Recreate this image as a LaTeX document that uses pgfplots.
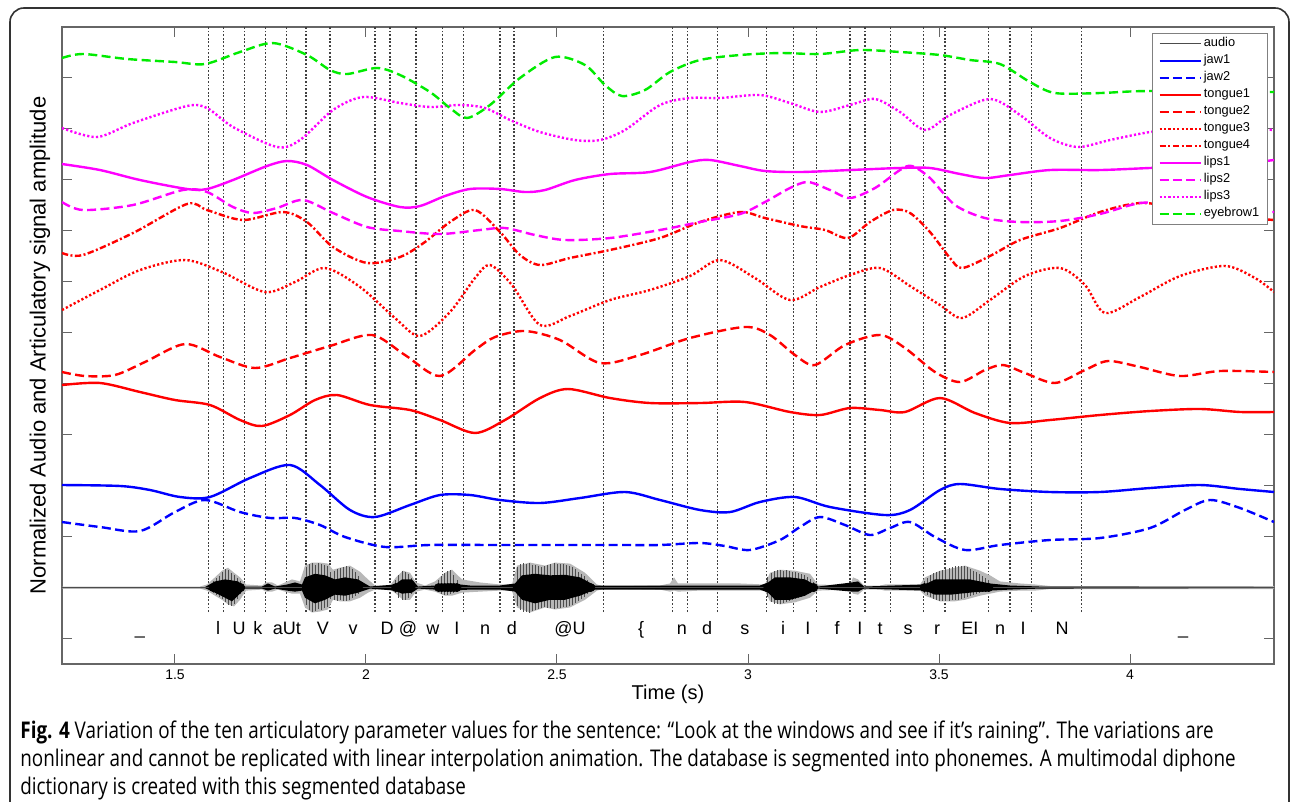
\documentclass[border=0pt]{standalone}
\usepackage{fontspec}
\setmainfont{Liberation Sans}
\newfontfamily\capfont[FakeStretch=0.82]{Open Sans}
\usepackage{pgfplots}
\pgfplotsset{compat=1.18}
\definecolor{mblue}{rgb}{0,0,1}
\definecolor{mred}{rgb}{1,0,0}
\definecolor{mmag}{rgb}{1,0,1}
\definecolor{mgreen}{rgb}{0,0.92,0}
\tikzset{
  solidc/.style={line width=1.2pt},
  dashc/.style={line width=1.2pt, dash pattern=on 4.5pt off 2.2pt},
  dotc/.style={line width=1.2pt, dash pattern=on 1.1pt off 1.1pt},
  dashdotc/.style={line width=1.2pt, dash pattern=on 3.2pt off 1.2pt on 1pt off 1.2pt},
}
\begin{document}
\begin{tikzpicture}
\path[use as bounding box] (0,0) rectangle (645pt,401pt);
\draw[black!80, line width=0.8pt, rounded corners=7pt] (5pt,-20pt) rectangle (644.5pt,397pt);
\begin{axis}[
  at={(31pt,69pt)}, anchor=south west,
  width=606pt, height=318.5pt, scale only axis,
  xmin=1.2042, xmax=4.377, ymin=-0.5, ymax=12,
  xtick={1.5,2,2.5,3,3.5,4},
  ytick={0,1,...,11}, yticklabels={},
  xtick pos=both, ytick pos=both,
  tick align=inside, major tick length=5pt,
  axis line style={black!60, line width=0.6pt},
  tick style={black!60, line width=0.5pt},
  /pgf/number format/assume math mode=true,
  xticklabel style={font=\fontsize{7}{8}\selectfont, anchor=center, yshift=-5.5pt},
  xlabel={Time (s)},
  ylabel={Normalized Audio and Articulatory signal amplitude},
  xlabel style={font=\fontsize{10}{11}\selectfont, at={(axis description cs:0.5,-0.048)}, anchor=center},
  ylabel style={font=\fontsize{11}{12}\selectfont, at={(axis description cs:-0.0182,0.5)}, anchor=center},
  legend style={at={(0.995,0.9906)}, anchor=north east, draw=black!50, line width=0.5pt, fill=white,
    font=\fontsize{6.4}{7}\selectfont, inner xsep=3pt, inner ysep=1pt, row sep=0.2pt,
    nodes={inner sep=1.05pt, text height=4.6pt, text depth=1.6pt}},
  legend cell align=left,
  legend image code/.code={\draw[#1] (0pt,0pt) -- (20.5pt,0pt);},
  clip=true,
]
% phoneme boundaries
\pgfplotsinvokeforeach{1.5872,1.6264,1.6814,1.7374,1.7924,1.8429,1.9058,2.0236,2.0628,2.1309,2.1997,2.2547,2.3508,2.3874,2.6212,2.8029,2.8411,2.9207,3.0490,3.1186,3.1799,3.2670,3.3063,3.3736,3.4589,3.5157,3.6291,3.6859,3.7427,3.8736}{
  \addplot[forget plot, black!75, line width=0.6pt, dash pattern=on 0.9pt off 0.9pt] coordinates {(#1,0.52) (#1,12)};
}
% audio waveform: outer envelope
\addplot[forget plot, fill=black!28, draw=none] coordinates {
(1.2042,1.02) (1.5654,1.02) (1.5838,1.06) (1.6047,1.20) (1.6230,1.33) (1.6387,1.39) (1.6545,1.29) (1.6702,1.20) (1.6859,1.06)
(1.7277,1.04) (1.7382,1.10) (1.7539,1.10) (1.7696,1.04) (1.7880,1.10) (1.8063,1.16) (1.8272,1.12) (1.8403,1.43) (1.8586,1.49)
(1.8796,1.49) (1.9005,1.47) (1.9136,1.35) (1.9319,1.39) (1.9581,1.43) (1.9843,1.31) (2.0052,1.16) (2.0236,1.04) (2.0628,1.04)
(2.0785,1.20) (2.0969,1.33) (2.1152,1.29) (2.1309,1.10) (2.1545,1.04) (2.1806,1.12) (2.2068,1.29) (2.2251,1.35) (2.2513,1.16)
(2.2984,1.10) (2.3508,1.06) (2.3822,1.06) (2.3953,1.43) (2.4293,1.49) (2.4686,1.43) (2.4948,1.49) (2.5340,1.47) (2.5733,1.29)
(2.6047,1.06) (2.6257,1.02) (2.7696,1.04) (2.7958,1.08) (2.8063,1.20) (2.8168,1.08) (2.8743,1.08) (2.9791,1.08) (3.0445,1.06)
(3.0576,1.29) (3.0838,1.35) (3.1230,1.33) (3.1623,1.27) (3.1832,1.06) (3.2670,1.04) (3.2749,1.20) (3.2880,1.16) (3.3037,1.04)
(3.3456,1.04) (3.3586,1.06) (3.3979,1.06) (3.4503,1.06) (3.4634,1.20) (3.5026,1.33) (3.5419,1.39) (3.5681,1.43) (3.6073,1.33)
(3.6335,1.24) (3.6597,1.12) (3.7120,1.08) (3.7513,1.06) (3.7906,1.03) (4.377,1.03)
(4.377,0.97) (3.7906,0.97) (3.7513,0.94) (3.7120,0.94) (3.6597,0.92) (3.6335,0.88) (3.6073,0.84) (3.5681,0.76) (3.5419,0.73)
(3.5026,0.73) (3.4634,0.84) (3.4503,0.94) (3.3979,0.94) (3.3586,0.94) (3.3456,0.96) (3.3037,0.96) (3.2880,0.86) (3.2749,0.88)
(3.2670,0.96) (3.1832,0.94) (3.1623,0.80) (3.1230,0.71) (3.0838,0.67) (3.0576,0.73) (3.0445,0.94) (2.9791,0.94) (2.8743,0.94)
(2.8168,0.92) (2.8063,0.94) (2.7958,0.92) (2.7696,0.96) (2.6257,0.98) (2.6047,0.94) (2.5733,0.76) (2.5340,0.61) (2.4948,0.57)
(2.4686,0.61) (2.4293,0.51) (2.3953,0.61) (2.3822,0.94) (2.3508,0.94) (2.2984,0.92) (2.2513,0.90) (2.2251,0.84) (2.2068,0.84)
(2.1806,0.92) (2.1545,0.96) (2.1309,0.92) (2.1152,0.76) (2.0969,0.76) (2.0785,0.88) (2.0628,0.96) (2.0236,0.96) (2.0052,0.90)
(1.9843,0.80) (1.9581,0.73) (1.9319,0.73) (1.9136,0.76) (1.9005,0.57) (1.8796,0.53) (1.8586,0.51) (1.8403,0.61) (1.8272,0.88)
(1.8063,0.88) (1.7880,0.92) (1.7696,0.96) (1.7539,0.92) (1.7382,0.92) (1.7277,0.96) (1.6859,0.94) (1.6702,0.76) (1.6545,0.63)
(1.6387,0.67) (1.6230,0.76) (1.6047,0.84) (1.5838,0.94) (1.5654,0.98) (1.2042,0.98)
};
% audio waveform: individual spikes (pitch periods)
\addplot[forget plot, only marks, mark=none,
  error bars/.cd, y dir=both, y explicit, error mark=none,
  error bar style={draw=black!70, line width=0.4pt, solid}]
  table[x=t, y=b, y error plus=p, y error minus=m] {
t b p m
1.600 1 0.12 0.10
1.608 1 0.18 0.14
1.616 1 0.22 0.18
1.624 1 0.30 0.22
1.632 1 0.36 0.28
1.640 1 0.34 0.34
1.648 1 0.28 0.36
1.656 1 0.24 0.32
1.664 1 0.18 0.22
1.672 1 0.12 0.12
1.844 1 0.40 0.35
1.852 1 0.46 0.44
1.860 1 0.48 0.48
1.868 1 0.44 0.46
1.876 1 0.48 0.42
1.884 1 0.46 0.45
1.892 1 0.44 0.40
1.900 1 0.42 0.38
1.908 1 0.30 0.22
1.916 1 0.32 0.24
1.924 1 0.36 0.26
1.932 1 0.38 0.25
1.940 1 0.40 0.26
1.948 1 0.42 0.26
1.956 1 0.40 0.24
1.964 1 0.36 0.20
1.972 1 0.30 0.16
1.980 1 0.22 0.12
2.078 1 0.15 0.10
2.086 1 0.25 0.20
2.094 1 0.32 0.24
2.102 1 0.30 0.24
2.110 1 0.26 0.20
2.118 1 0.18 0.12
2.190 1 0.15 0.08
2.198 1 0.22 0.12
2.206 1 0.28 0.15
2.214 1 0.32 0.14
2.222 1 0.34 0.12
2.230 1 0.25 0.10
2.238 1 0.15 0.08
2.396 1 0.40 0.36
2.404 1 0.46 0.44
2.412 1 0.48 0.48
2.420 1 0.46 0.48
2.428 1 0.48 0.49
2.436 1 0.44 0.46
2.444 1 0.45 0.44
2.452 1 0.42 0.42
2.460 1 0.40 0.40
2.468 1 0.42 0.38
2.476 1 0.44 0.40
2.484 1 0.46 0.40
2.492 1 0.48 0.42
2.500 1 0.46 0.40
2.508 1 0.46 0.40
2.516 1 0.46 0.38
2.524 1 0.44 0.38
2.532 1 0.42 0.36
2.540 1 0.40 0.34
2.548 1 0.36 0.30
2.556 1 0.30 0.26
2.564 1 0.26 0.22
2.572 1 0.22 0.18
2.580 1 0.14 0.12
2.588 1 0.08 0.08
3.052 1 0.20 0.18
3.060 1 0.28 0.28
3.068 1 0.32 0.32
3.076 1 0.34 0.33
3.084 1 0.35 0.32
3.092 1 0.32 0.30
3.100 1 0.34 0.28
3.108 1 0.33 0.26
3.116 1 0.30 0.24
3.124 1 0.30 0.22
3.132 1 0.28 0.20
3.140 1 0.26 0.18
3.148 1 0.24 0.16
3.156 1 0.20 0.12
3.164 1 0.16 0.10
3.172 1 0.10 0.06
3.462 1 0.12 0.10
3.470 1 0.18 0.14
3.478 1 0.24 0.18
3.486 1 0.28 0.22
3.494 1 0.30 0.24
3.502 1 0.32 0.26
3.510 1 0.34 0.26
3.518 1 0.36 0.26
3.526 1 0.38 0.26
3.534 1 0.40 0.25
3.542 1 0.42 0.24
3.550 1 0.42 0.24
3.558 1 0.43 0.22
3.566 1 0.42 0.20
3.574 1 0.40 0.18
3.582 1 0.36 0.16
3.590 1 0.32 0.14
3.598 1 0.30 0.12
3.606 1 0.26 0.10
3.614 1 0.22 0.08
3.622 1 0.18 0.08
3.630 1 0.14 0.06
};
% audio waveform: core
\addplot[forget plot, fill=black, draw=none] coordinates {
(1.2042,1.01) (1.5785,1.01) (1.6047,1.12) (1.6309,1.16) (1.6492,1.14) (1.6649,1.12) (1.6832,1.02) (1.7277,1.02) (1.7435,1.08)
(1.7618,1.02) (1.7932,1.06) (1.8141,1.10) (1.8325,1.06) (1.8403,1.20) (1.8665,1.27) (1.8927,1.24) (1.9188,1.16) (1.9450,1.20)
(1.9791,1.16) (2.0105,1.02) (2.0759,1.06) (2.0942,1.16) (2.1204,1.16) (2.1361,1.02) (2.1806,1.04) (2.2199,1.08) (2.2723,1.04)
(2.3508,1.04) (2.3901,1.08) (2.4084,1.24) (2.4424,1.27) (2.4817,1.24) (2.5209,1.25) (2.5602,1.20) (2.5995,1.04) (2.7906,1.04)
(2.8743,1.04) (3.0314,1.04) (3.0524,1.10) (3.0707,1.20) (3.1099,1.20) (3.1492,1.16) (3.1832,1.02) (3.2722,1.10) (3.2880,1.12)
(3.3037,1.02) (3.4634,1.06) (3.4895,1.16) (3.5288,1.16) (3.5812,1.16) (3.6335,1.08) (3.6859,1.04) (3.7644,1.02) (4.377,1.01)
(4.377,0.99) (3.7644,0.98) (3.6859,0.96) (3.6335,0.94) (3.5812,0.90) (3.5288,0.86) (3.4895,0.86) (3.4634,0.94) (3.3037,0.98)
(3.2880,0.92) (3.2722,0.92) (3.1832,0.98) (3.1492,0.84) (3.1099,0.76) (3.0707,0.76) (3.0524,0.90) (3.0314,0.96) (2.8743,0.96)
(2.7906,0.96) (2.5995,0.96) (2.5602,0.84) (2.5209,0.76) (2.4817,0.76) (2.4424,0.69) (2.4084,0.76) (2.3901,0.92) (2.3508,0.96)
(2.2723,0.96) (2.2199,0.94) (2.1806,0.96) (2.1361,0.98) (2.1204,0.90) (2.0942,0.88) (2.0759,0.94) (2.0105,0.98) (1.9791,0.90)
(1.9450,0.84) (1.9188,0.86) (1.8927,0.76) (1.8665,0.69) (1.8403,0.80) (1.8325,0.94) (1.8141,0.92) (1.7932,0.94) (1.7618,0.98)
(1.7435,0.94) (1.7277,0.98) (1.6832,0.98) (1.6649,0.84) (1.6492,0.73) (1.6309,0.80) (1.6047,0.90) (1.5785,0.99) (1.2042,0.99)
};
\addplot[black!70, line width=0.5pt] coordinates {(1.2042,1) (4.377,1)};
\addlegendentry{audio}
% jaw1
\addplot[mblue, solidc, smooth] coordinates {
(1.2042,3.012) (1.3560,2.993) (1.4346,2.914) (1.5131,2.777) (1.5916,2.777) (1.6963,3.150) (1.8010,3.405) (1.8796,3.012)
(1.9581,2.522) (2.0236,2.384) (2.1152,2.620) (2.1937,2.816) (2.2723,2.816) (2.3508,2.718) (2.4555,2.659) (2.5602,2.757)
(2.6780,2.875) (2.7696,2.718) (2.8743,2.522) (2.9529,2.482) (3.0314,2.679) (3.1230,2.777) (3.2147,2.580) (3.3586,2.423)
(3.4241,2.522) (3.5026,2.914) (3.5550,3.032) (3.6597,2.934) (3.7906,2.875) (3.9215,2.875) (4.0524,2.953) (4.1832,3.012)
(4.2880,2.934) (4.377,2.875)};
\addlegendentry{jaw1}
% jaw2
\addplot[mblue, dashc, smooth] coordinates {
(1.2042,2.286) (1.3037,2.188) (1.4084,2.109) (1.5,2.482) (1.5785,2.718) (1.6702,2.482) (1.7487,2.365) (1.8141,2.365)
(1.8796,2.227) (1.9450,1.992) (2.0497,1.796) (2.1675,1.835) (2.3508,1.835) (2.5079,1.835) (2.6649,1.835) (2.7696,1.835)
(2.8743,1.874) (2.9398,1.815) (3.0052,1.737) (3.0838,1.933) (3.1361,2.188) (3.1885,2.384) (3.2539,2.227) (3.3194,2.031)
(3.3717,2.168) (3.4241,2.286) (3.4895,1.992) (3.5681,1.737) (3.6597,1.835) (3.7906,1.933) (3.9215,1.972) (4.0524,2.168)
(4.1440,2.522) (4.2094,2.718) (4.2880,2.561) (4.377,2.286)};
\addlegendentry{jaw2}
% tongue1
\addplot[mred, solidc, smooth] coordinates {
(1.2042,4.974) (1.3037,5.014) (1.4084,4.837) (1.5,4.680) (1.5916,4.582) (1.6702,4.288) (1.7277,4.170) (1.8010,4.386)
(1.8665,4.680) (1.9241,4.778) (2.0105,4.582) (2.1152,4.484) (2.1937,4.288) (2.2853,4.033) (2.3639,4.288) (2.4555,4.719)
(2.5288,4.896) (2.6387,4.719) (2.7435,4.621) (2.8743,4.621) (2.9921,4.641) (3.1099,4.445) (3.1885,4.386) (3.2670,4.523)
(3.3456,4.484) (3.4110,4.445) (3.5026,4.719) (3.5942,4.425) (3.6859,4.229) (3.7906,4.288) (3.9215,4.386) (4.0524,4.464)
(4.1832,4.504) (4.2880,4.445) (4.377,4.445)};
\addlegendentry{tongue1}
% tongue2
\addplot[mred, dashc, smooth] coordinates {
(1.2042,5.230) (1.2644,5.151) (1.3429,5.171) (1.4215,5.426) (1.5262,5.779) (1.6178,5.524) (1.7094,5.308) (1.8010,5.504)
(1.9058,5.740) (2.0157,5.956) (2.1021,5.563) (2.1937,5.151) (2.2853,5.661) (2.3377,5.916) (2.4162,6.034) (2.5079,5.857)
(2.6126,5.406) (2.7173,5.563) (2.8482,5.897) (2.9921,6.113) (3.0576,5.956) (3.1230,5.563) (3.1754,5.367) (3.2539,5.759)
(3.3456,5.956) (3.4110,5.700) (3.4895,5.230) (3.5550,5.033) (3.6204,5.269) (3.6675,5.367) (3.7251,5.210) (3.8037,5.014)
(3.8822,5.269) (3.9424,5.445) (4.0262,5.328) (4.1309,5.151) (4.2356,5.249) (4.377,5.230)};
\addlegendentry{tongue2}
% tongue3
\addplot[mred, dotc, smooth] coordinates {
(1.2042,6.446) (1.3037,6.839) (1.4084,7.231) (1.5262,7.427) (1.6230,7.192) (1.7356,6.799) (1.8141,6.996) (1.8927,7.270)
(1.9843,6.898) (2.0759,6.289) (2.1414,5.936) (2.2199,6.407) (2.2853,7.074) (2.3246,7.329) (2.3822,6.937) (2.4555,6.152)
(2.5340,6.328) (2.6387,6.642) (2.7435,6.839) (2.8482,7.113) (2.9267,7.427) (3.0183,7.074) (3.1099,6.642) (3.1885,6.898)
(3.2670,7.133) (3.3456,7.270) (3.4241,6.917) (3.5026,6.544) (3.5602,6.289) (3.6335,6.642) (3.7251,7.113) (3.8168,7.270)
(3.8822,6.937) (3.9346,6.387) (4.0262,6.701) (4.1309,7.113) (4.2487,7.310) (4.3272,7.074) (4.377,6.799)};
\addlegendentry{tongue3}
% tongue4
\addplot[mred, dashdotc, smooth] coordinates {
(1.2042,7.565) (1.2592,7.526) (1.3901,7.957) (1.5314,8.526) (1.5838,8.408) (1.6780,8.212) (1.7827,8.369) (1.8455,8.173)
(1.9136,7.682) (2.0026,7.369) (2.0890,7.486) (2.1545,7.781) (2.2199,8.173) (2.2853,8.408) (2.3508,7.977) (2.4031,7.526)
(2.4555,7.329) (2.5340,7.467) (2.6387,7.624) (2.7696,7.859) (2.8743,8.173) (2.9791,8.369) (3.0445,8.251) (3.1361,8.094)
(3.2016,8.016) (3.2618,7.859) (3.3194,8.173) (3.3796,8.408) (3.4241,8.350) (3.4764,7.977) (3.5288,7.467) (3.5602,7.270)
(3.6335,7.506) (3.7120,7.820) (3.8168,8.055) (3.9215,8.369) (4.0262,8.546) (4.1309,8.448) (4.2356,8.310) (4.377,8.212)};
\addlegendentry{tongue4}
% lips1
\addplot[mmag, solidc, smooth] coordinates {
(1.2042,9.311) (1.3037,9.193) (1.4084,8.997) (1.5314,8.821) (1.5838,8.821) (1.6518,8.997) (1.7408,9.272) (1.7932,9.370)
(1.8455,9.292) (1.9136,8.997) (2.0026,8.664) (2.0890,8.467) (2.1414,8.487) (2.2068,8.683) (2.2723,8.821) (2.3508,8.821)
(2.4162,8.762) (2.4686,8.801) (2.5471,8.997) (2.6387,9.115) (2.7435,9.154) (2.8482,9.351) (2.9005,9.390) (2.9791,9.272)
(3.0445,9.174) (3.1361,9.154) (3.2670,9.193) (3.3979,9.233) (3.4764,9.233) (3.5550,9.115) (3.6204,9.036) (3.6859,9.095)
(3.7906,9.193) (3.9215,9.193) (4.0524,9.233) (4.1832,9.272) (4.2880,9.311) (4.377,9.390)};
\addlegendentry{lips1}
% lips2
\addplot[mmag, dashc, smooth] coordinates {
(1.2042,8.565) (1.2592,8.408) (1.3901,8.507) (1.5209,8.801) (1.5838,8.762) (1.6518,8.467) (1.7042,8.350) (1.7670,8.448)
(1.8351,8.605) (1.9136,8.350) (2.0026,8.075) (2.0890,7.996) (2.1937,7.937) (2.2984,8.016) (2.3639,8.055) (2.4424,7.918)
(2.5209,7.820) (2.6387,7.859) (2.7696,8.016) (2.8743,8.173) (2.9791,8.330) (3.0445,8.565) (3.1099,8.840) (3.1571,8.958)
(3.2147,8.801) (3.2670,8.644) (3.3325,8.840) (3.3979,9.193) (3.4293,9.272) (3.4764,9.036) (3.5419,8.507) (3.6204,8.251)
(3.7120,8.173) (3.8168,8.193) (3.9215,8.330) (4.0262,8.546) (4.1047,8.507) (4.2094,8.408) (4.377,8.369)};
\addlegendentry{lips2}
% lips3
\addplot[mmag, dotc, smooth] coordinates {
(1.2042,10.018) (1.2958,9.841) (1.3901,10.116) (1.5314,10.449) (1.5838,10.410) (1.6518,10.037) (1.7670,9.645) (1.8272,9.782)
(1.9136,10.371) (1.9921,10.626) (2.0890,10.508) (2.1675,10.430) (2.2461,10.469) (2.3115,10.410) (2.3770,10.175) (2.4555,9.939)
(2.5471,9.782) (2.6126,9.782) (2.6780,9.978) (2.7696,10.469) (2.8482,10.606) (2.9267,10.606) (3.0314,10.665) (3.1099,10.508)
(3.1885,10.332) (3.2670,10.469) (3.3325,10.587) (3.3979,10.332) (3.4634,9.978) (3.5288,10.273) (3.6335,10.587) (3.7120,10.273)
(3.7906,9.821) (3.8639,9.645) (3.9476,9.782) (4.0524,9.939) (4.1571,10.018) (4.2618,10.037) (4.377,9.978)};
\addlegendentry{lips3}
% eyebrow1
\addplot[mgreen, dashc, smooth] coordinates {
(1.2042,11.391) (1.2592,11.470) (1.3743,11.372) (1.5,11.313) (1.5785,11.273) (1.6702,11.509) (1.7565,11.685) (1.8455,11.450)
(1.9058,11.156) (1.9503,11.077) (2.0288,11.195) (2.0890,11.058) (2.1675,10.724) (2.2199,10.410) (2.2644,10.214) (2.3246,10.469)
(2.4031,10.999) (2.4948,11.411) (2.5733,11.254) (2.6257,10.861) (2.6702,10.645) (2.7304,10.763) (2.7958,11.116) (2.8743,11.352)
(2.9791,11.450) (3.0838,11.489) (3.1885,11.470) (3.2932,11.548) (3.3979,11.509) (3.5026,11.450) (3.5812,11.352) (3.6597,11.273)
(3.7382,10.920) (3.8037,10.704) (3.9215,10.704) (4.0524,10.744) (4.377,10.724)};
\addlegendentry{eyebrow1}
% phoneme labels
\begin{scope}[every node/.style={anchor=base, inner sep=0pt, font=\fontsize{9}{10}\selectfont}]
\node at (axis cs:1.408,0.088) {\_};
\node at (axis cs:1.613,0.088) {l};
\node at (axis cs:1.668,0.088) {U};
\node at (axis cs:1.717,0.088) {k};
\node at (axis cs:1.793,0.088) {aUt};
\node at (axis cs:1.887,0.088) {V};
\node at (axis cs:1.966,0.088) {v};
\node at (axis cs:2.055,0.088) {D};
\node at (axis cs:2.110,0.088) {@};
\node at (axis cs:2.175,0.088) {w};
\node at (axis cs:2.238,0.088) {I};
\node at (axis cs:2.312,0.088) {n};
\node at (axis cs:2.382,0.088) {d};
\node at (axis cs:2.534,0.088) {@U};
\node at (axis cs:2.720,0.088) {\{};
\node at (axis cs:2.827,0.088) {n};
\node at (axis cs:2.893,0.088) {d};
\node at (axis cs:2.992,0.088) {s};
\node at (axis cs:3.092,0.088) {i};
\node at (axis cs:3.157,0.088) {I};
\node at (axis cs:3.233,0.088) {f};
\node at (axis cs:3.293,0.088) {I};
\node at (axis cs:3.346,0.088) {t};
\node at (axis cs:3.419,0.088) {s};
\node at (axis cs:3.495,0.088) {r};
\node at (axis cs:3.581,0.088) {EI};
\node at (axis cs:3.660,0.088) {n};
\node at (axis cs:3.720,0.088) {I};
\node at (axis cs:3.822,0.088) {N};
\node at (axis cs:4.139,0.088) {\_};
\end{scope}
\end{axis}
\begin{scope}[every node/.style={anchor=base west, inner sep=0pt, font=\capfont\fontsize{11.5}{13}\selectfont}]
\node at (10pt,31.5pt) {\textbf{Fig. 4} Variation of the ten articulatory parameter values for the sentence: “Look at the windows and see if it’s raining”. The variations are};
\node at (10pt,17.5pt) {nonlinear and cannot be replicated with linear interpolation animation. The database is segmented into phonemes. A multimodal diphone};
\node at (10pt,3.5pt) {dictionary is created with this segmented database};
\end{scope}
\end{tikzpicture}
\end{document}
